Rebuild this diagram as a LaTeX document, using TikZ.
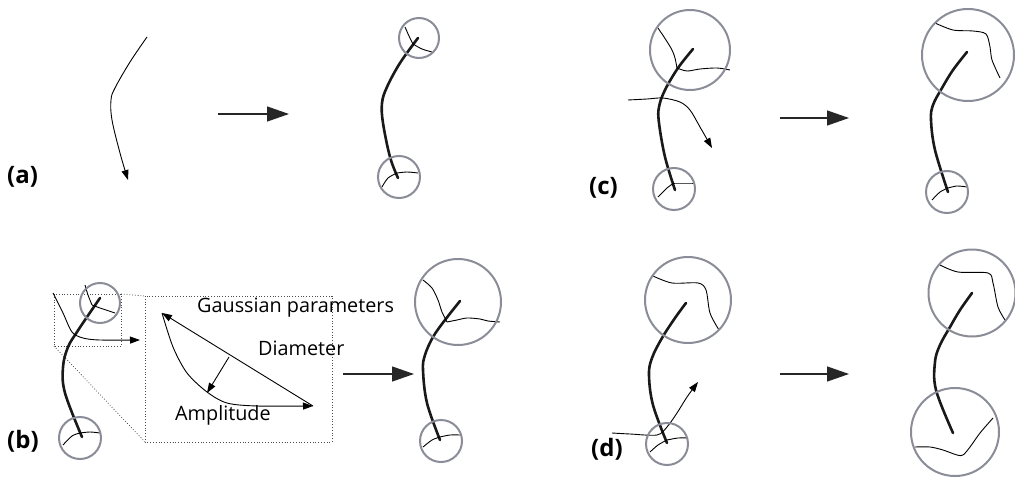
\documentclass[tikz,border=0pt]{standalone}
\usepackage{fontspec}
\setmainfont{Open Sans}
\usetikzlibrary{arrows.meta}
\definecolor{ringgray}{RGB}{138,140,152}
\tikzset{
  ring/.style={draw=ringgray, line width=2pt},
  fiber/.style={draw=black!90, line width=2.6pt, line cap=round},
  edge/.style={draw=black, line width=0.9pt},
  thinarrow/.style={draw=black, line width=0.9pt, -{Triangle[length=10pt,width=7pt]}},
  bigarrow/.style={draw=black!85, line width=1.3pt, -{Triangle[length=22pt,width=15pt]}},
  dotbox/.style={draw=black!70, line width=0.8pt, dotted},
  panellabel/.style={font=\fontsize{24}{28}\selectfont\bfseries, anchor=west, inner sep=0pt},
  insettext/.style={font=\fontsize{19.8}{23}\selectfont, anchor=base west, inner sep=0pt},
}
\begin{document}
\begin{tikzpicture}[x=1pt,y=-1pt]
\useasboundingbox (0,0) rectangle (1015,479);

% ---------- (a) ----------
\node[panellabel] (la) at (7,177) {(a)};
\draw[thinarrow] plot[smooth,tension=0.6] coordinates {(147,37) (130,62) (115,88) (111,100) (112,120) (120,153) (128,180)};
\coordinate (a1) at (218,114); \coordinate (a2) at (289,114);
\draw[bigarrow] (a1) -- (a2);
\draw[fiber] plot[smooth,tension=0.6] coordinates {(418,38) (400,63) (387,87) (382,103) (383,123) (390,157) (398,178)};
\draw[edge] plot[smooth] coordinates {(405,27) (409,36) (413,44)};
\draw[edge] plot[smooth] coordinates {(413,44) (422,49) (432,52)};
\draw[edge] plot[smooth] coordinates {(397,173) (407,172) (418,173)};
\draw[edge] plot[smooth] coordinates {(397,173) (388,178) (382,187)};
\node[ring, circle, minimum size=40pt, inner sep=0pt] (ra1) at (419,38) {};
\node[ring, circle, minimum size=42pt, inner sep=0pt] (ra2) at (399,177) {};

% ---------- (c) ----------
\node[panellabel] (lc) at (589,188) {(c)};
\draw[fiber] plot[smooth,tension=0.6] coordinates {(693,49) (678,68) (665,90) (659,107) (659,123) (665,157) (675,190)};
\draw[edge] plot[smooth] coordinates {(658,28) (666,40) (672,50) (675,58) (677,68)};
\draw[edge] plot[smooth] coordinates {(677,68) (687,71) (700,69) (717,68) (730,70)};
\draw[thinarrow] plot[smooth] coordinates {(628,100) (647,99) (663,98) (680,102) (690,110) (700,127) (712,148)};
\draw[edge] plot[smooth] coordinates {(674,183) (683,183) (693,183)};
\draw[edge] plot[smooth] coordinates {(674,183) (667,188) (658,197)};
\node[ring, circle, minimum size=80pt, inner sep=0pt] (rc1) at (690,50) {};
\node[ring, circle, minimum size=42pt, inner sep=0pt] (rc2) at (674,189) {};

\coordinate (c1) at (780,118); \coordinate (c2) at (849,118);
\draw[bigarrow] (c1) -- (c2);
\draw[fiber] plot[smooth,tension=0.6] coordinates {(967,52) (953,70) (942,88) (933,105) (931,120) (935,150) (948,192)};
\draw[edge] plot[smooth] coordinates {(935,23) (953,30) (973,31) (986,34) (990,47) (992,60) (1000,78)};
\draw[edge] plot[smooth] coordinates {(948,188) (957,186) (967,187)};
\draw[edge] plot[smooth] coordinates {(948,188) (940,192) (932,200)};
\node[ring, circle, minimum size=92pt, inner sep=0pt] (rc3) at (968,55) {};
\node[ring, circle, minimum size=42pt, inner sep=0pt] (rc4) at (947,192) {};

% ---------- (b) ----------
\node[panellabel] (lb) at (7,441) {(b)};
\draw[dotbox] (54,294) rectangle (121,346);
\draw[dotbox] (145,296) rectangle (332,442);
\draw[dotbox] (121,294) -- (145,296);
\draw[dotbox] (54,346) -- (145,442);
\draw[fiber] plot[smooth,tension=0.6] coordinates {(100,298) (87,317) (77,332) (68,347) (63,367) (65,393) (82,437)};
\draw[edge] plot[smooth] coordinates {(85,285) (88,295) (92,305)};
\draw[edge] plot[smooth] coordinates {(92,305) (100,308) (115,313)};
\draw[thinarrow] plot[smooth] coordinates {(53,293) (63,313) (72,332) (83,338) (100,340) (140,340)};
\draw[edge] plot[smooth] coordinates {(80,433) (90,432) (100,433)};
\draw[edge] plot[smooth] coordinates {(80,433) (72,436) (63,445)};
\node[ring, circle, minimum size=40pt, inner sep=0pt] (rb1) at (100,303) {};
\node[ring, circle, minimum size=42pt, inner sep=0pt] (rb2) at (80,438) {};

% inset
\coordinate (g1) at (162,313); \coordinate (g2) at (313,406);
\draw[thinarrow] (g2) -- (g1);
\draw[thinarrow] plot[smooth] coordinates {(162,313) (173,347) (187,373) (207,392) (227,403) (257,406) (313,406)};
\coordinate (m1) at (229,357); \coordinate (m2) at (207,393);
\draw[thinarrow] (m1) -- (m2);
\node[insettext] (tg) at (197,312) {Gaussian parameters};
\node[insettext] (td) at (258,355) {Diameter};
\node[insettext] (tam) at (175,420) {Amplitude};

\coordinate (b1) at (343,374); \coordinate (b2) at (414,374);
\draw[bigarrow] (b1) -- (b2);
\draw[fiber] plot[smooth,tension=0.6] coordinates {(460,301) (445,320) (433,337) (425,355) (423,370) (427,403) (440,440)};
\draw[edge] plot[smooth] coordinates {(423,280) (432,288) (438,300) (442,312) (447,322)};
\draw[edge] plot[smooth] coordinates {(447,322) (457,320) (467,318) (480,319) (488,321) (500,322)};
\draw[edge] plot[smooth] coordinates {(440,437) (450,435) (460,435)};
\draw[edge] plot[smooth] coordinates {(440,437) (432,440) (423,447)};
\node[ring, circle, minimum size=86pt, inner sep=0pt] (rb3) at (458,302) {};
\node[ring, circle, minimum size=42pt, inner sep=0pt] (rb4) at (441,441) {};

% ---------- (d) ----------
\node[panellabel] (ld) at (591,449) {(d)};
\draw[fiber] plot[smooth,tension=0.6] coordinates {(686,303) (675,318) (662,338) (652,358) (649,375) (653,405) (667,443)};
\draw[edge] plot[smooth] coordinates {(653,276) (672,283) (698,283) (706,290) (710,313) (719,330)};
\draw[thinarrow] plot[smooth] coordinates {(612,433) (630,434) (657,435) (667,427) (677,413) (687,397) (698,382)};
\draw[edge] plot[smooth] coordinates {(667,440) (678,438) (688,438)};
\draw[edge] plot[smooth] coordinates {(667,440) (658,445) (650,452)};
\node[ring, circle, minimum size=86pt, inner sep=0pt] (rd1) at (688,300) {};
\node[ring, circle, minimum size=42pt, inner sep=0pt] (rd2) at (667,444) {};

\coordinate (d1) at (780,374); \coordinate (d2) at (849,374);
\draw[bigarrow] (d1) -- (d2);
\draw[fiber] plot[smooth,tension=0.6] coordinates {(972,293) (960,310) (950,327) (940,345) (935,362) (936,390) (953,433)};
\draw[edge] plot[smooth] coordinates {(940,265) (958,272) (988,273) (993,283) (998,307) (1005,320)};
\draw[edge] plot[smooth] coordinates {(915,447) (930,447) (943,450) (957,455) (963,455) (970,447) (980,433) (993,418)};
\node[ring, circle, minimum size=87pt, inner sep=0pt] (rd3) at (972,293) {};
\node[ring, circle, minimum size=88pt, inner sep=0pt] (rd4) at (955,432) {};
\end{tikzpicture}
\end{document}
